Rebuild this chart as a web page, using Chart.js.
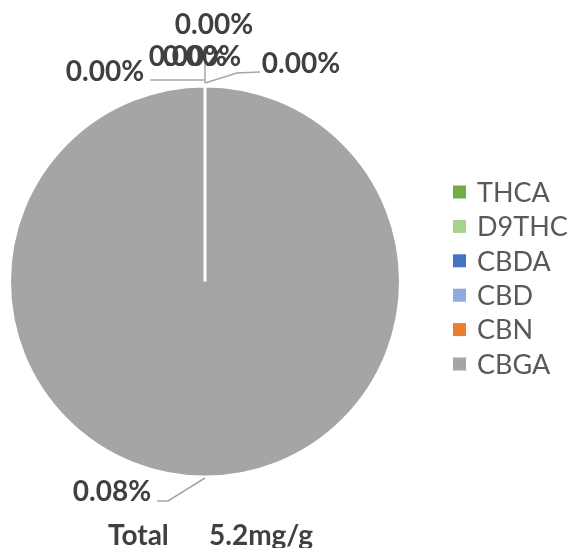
<!DOCTYPE html>
<html lang="en">
<head>
    <meta charset="UTF-8">
    <title>Cannabinoid Profile</title>
    <script src="https://cdn.jsdelivr.net/npm/chart.js"></script>
    <style>
        html, body { margin: 0; padding: 0; background: #fff; }
        .chart-box { position: relative; width: 568px; height: 548px; }
    </style>
</head>
<body>
    <div class="chart-box">
        <canvas id="pieChart"></canvas>
    </div>
    <script>
        // data
        const labels = ['THCA', 'D9THC', 'CBDA', 'CBD', 'CBN', 'CBGA'];
        const values = [0, 0, 0, 0, 0, 0.08];
        const colors = ['#70ad47', '#a9d18e', '#4472c4', '#8faadc', '#ed7d31', '#a5a5a5'];
        const totalLabel = 'Total';
        const totalValue = '5.2mg/g';

        // where each data label sits, relative to its slice's edge point (dx, dy)
        const labelOffsets = [[96, -22], [9, -61], [-17, -29], [-3, -29], [-100, -14], [-93, 15]];
        // leader line bends (relative to edge point), null = no leader
        const leaderPaths = [
            [[0, -3], [32, -13], [55, -14]],
            [[0, -3], [0, -40]],
            null,
            null,
            [[0, -6], [-55, -6]],
            [[0, 1], [-37, 24], [-48, 24]]
        ];

        const labelFont = 'bold 28px Lato';
        const legendFont = '27px Lato';

        const pieLabels = {
            id: 'pieLabels',
            afterDatasetsDraw(chart) {
                const ctx = chart.ctx;
                const meta = chart.getDatasetMeta(0);
                ctx.save();
                meta.data.forEach((arc, i) => {
                    const p = arc.getProps(['x', 'y', 'startAngle', 'endAngle', 'outerRadius'], true);
                    const mid = (p.startAngle + p.endAngle) / 2;
                    const ex = p.x + Math.cos(mid) * p.outerRadius;
                    const ey = p.y + Math.sin(mid) * p.outerRadius;
                    const path = leaderPaths[i];
                    if (path) {
                        ctx.strokeStyle = '#a6a6a6';
                        ctx.lineWidth = 1.5;
                        ctx.beginPath();
                        path.forEach((pt, k) => {
                            if (k === 0) ctx.moveTo(ex + pt[0], ey + pt[1]);
                            else ctx.lineTo(ex + pt[0], ey + pt[1]);
                        });
                        ctx.stroke();
                    }
                    ctx.font = labelFont;
                    ctx.fillStyle = '#404040';
                    ctx.textAlign = 'center';
                    ctx.textBaseline = 'middle';
                    ctx.fillText(values[i].toFixed(2) + '%', ex + labelOffsets[i][0], ey + labelOffsets[i][1]);
                });
                // total line under the pie
                const c = meta.data[0].getProps(['x', 'y', 'outerRadius'], true);
                ctx.textAlign = 'left';
                ctx.textBaseline = 'alphabetic';
                ctx.fillText(totalLabel, c.x - 97, c.y + c.outerRadius + 68);
                ctx.fillText(totalValue, c.x + 4, c.y + c.outerRadius + 68);

                // legend, right of the pie
                const area = chart.chartArea;
                const lx = area.right + 51;
                const step = 34.4;
                const ly = (area.top + area.bottom) / 2 - 3.5 - step * (labels.length - 1) / 2;
                ctx.font = legendFont;
                ctx.textBaseline = 'middle';
                labels.forEach((t, i) => {
                    const y = ly + i * step;
                    ctx.fillStyle = colors[i];
                    ctx.fillRect(lx, y - 6.5, 13, 13);
                    ctx.fillStyle = '#595959';
                    ctx.fillText(t, lx + 24, y + 1);
                });
                ctx.restore();
            }
        };

        const ctx = document.getElementById('pieChart').getContext('2d');
        new Chart(ctx, {
            type: 'pie',
            data: {
                labels: labels,
                datasets: [{
                    data: values,
                    backgroundColor: colors,
                    borderColor: '#ffffff',
                    borderWidth: 3
                }]
            },
            options: {
                responsive: true,
                maintainAspectRatio: false,
                animation: false,
                layout: {
                    padding: { left: 8, right: 166, top: 83, bottom: 68 }
                },
                plugins: {
                    legend: { display: false },
                    tooltip: { enabled: false }
                }
            },
            plugins: [pieLabels]
        });
    </script>
</body>
</html>
